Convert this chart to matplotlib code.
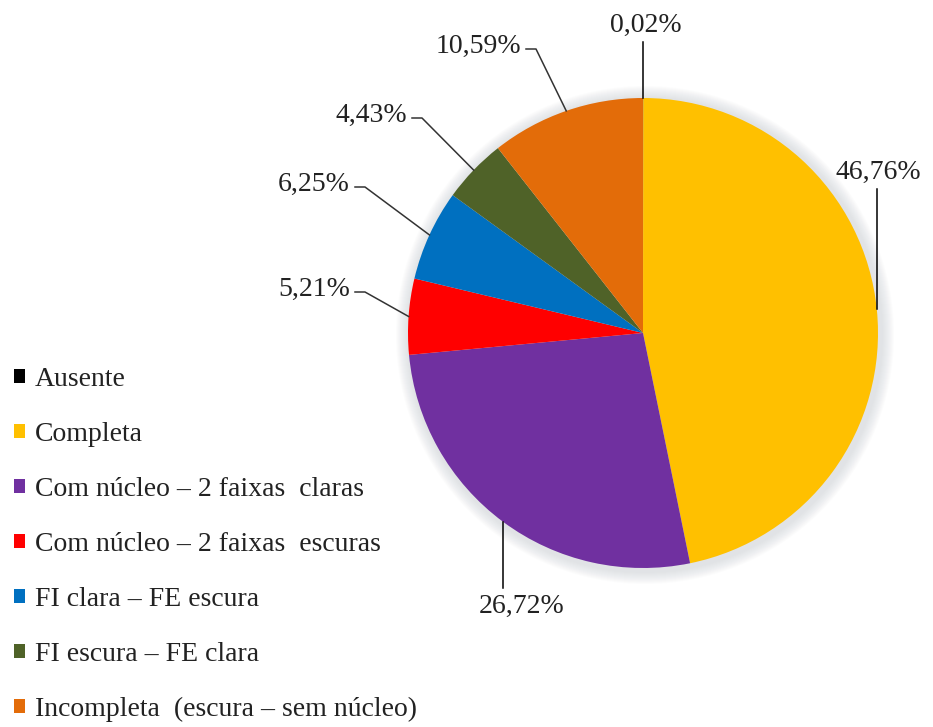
import numpy as np
import matplotlib
matplotlib.use("Agg")
import matplotlib.pyplot as plt

plt.rcParams['font.family'] = ['Liberation Serif', 'DejaVu Serif']

categories = [
    "Ausente",
    "Completa",
    "Com núcleo – 2 faixas  claras",
    "Com núcleo – 2 faixas  escuras",
    "FI clara – FE escura",
    "FI escura – FE clara",
    "Incompleta  (escura – sem núcleo)",
]
values = [0.02, 46.76, 26.72, 5.21, 6.25, 4.43, 10.59]
value_labels = ["0,02%", "46,76%", "26,72%", "5,21%", "6,25%", "4,43%", "10,59%"]
colors = ["#000000", "#FFC000", "#7030A0", "#FF0000", "#0070C0", "#4F6228", "#E36C09"]

W, H = 933, 727
cx, cy, r = 643, H - 333, 235

fig = plt.figure(figsize=(W / 100, H / 100), dpi=100)
ax = fig.add_axes([0, 0, 1, 1])

# soft shadow around the pie
for k in range(12):
    ax.add_patch(plt.Circle((cx + 2, cy - 2), r + 14 - k, color="#c8ccd4",
                            alpha=0.05, lw=0, zorder=0))

wedges, _ = ax.pie(values, colors=colors, startangle=90, counterclock=False,
                   center=(cx, cy), radius=r, wedgeprops=dict(linewidth=0))

# label text positions (pixels from top-left) and leader line style
# "h": horizontal stub then diagonal, "v": vertical line
label_pos = [
    (646, 25, "center", "v"),
    (878, 172, "center", "v"),
    (522, 606, "center", "v"),
    (350, 289, "right", "h"),
    (350, 184, "right", "h"),
    (407, 115, "right", "h"),
    (521, 46, "right", "h"),
]

for w, txt, (tx, ty, ha, kind) in zip(wedges, value_labels, label_pos):
    ang = np.deg2rad((w.theta1 + w.theta2) / 2)
    ex, ey = cx + r * np.cos(ang), cy + r * np.sin(ang)
    ty_d = H - ty
    ax.text(tx, ty_d, txt, ha=ha, va="center", fontsize=20, color="#222222")
    if kind == "v":
        if ty_d > ey:
            ax.plot([ex, ex], [ty_d - 17, ey], color="black", lw=1.1)
        else:
            ax.plot([ex, ex], [ty_d + 18, ey], color="black", lw=1.1)
    else:
        y0 = ty_d - 3
        ax.plot([tx + 5, tx + 15, ex], [y0, y0, ey], color="#333333", lw=1.1)

ax.set_xlim(0, W)
ax.set_ylim(0, H)
ax.set_aspect("equal")
ax.axis("off")

leg = ax.legend(wedges, categories, loc="upper left", bbox_to_anchor=(3 / W, 1 - 356 / H),
                frameon=False, fontsize=20, handlelength=0.4, handleheight=0.4,
                handletextpad=0.35, labelspacing=1.08, borderaxespad=0)
for t in leg.get_texts():
    t.set_color("#222222")

fig.savefig("out.png", dpi=100)
